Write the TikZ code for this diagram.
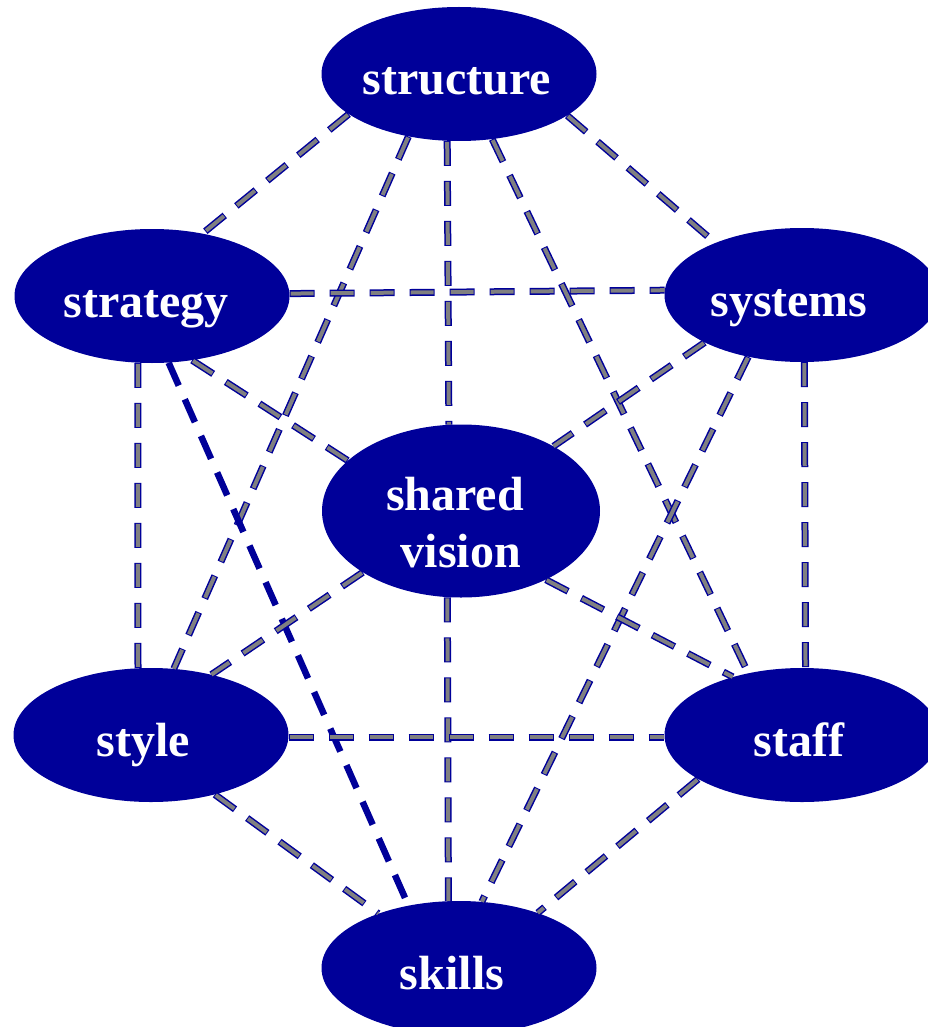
\documentclass[tikz,border=0pt]{standalone}
\usepackage{fontspec}
\setmainfont{Liberation Serif}
\usepackage{tikz}
\usetikzlibrary{shapes}
\definecolor{navy}{RGB}{0,0,153}
\definecolor{linkgray}{RGB}{128,128,128}
\tikzset{
  link/.style={draw=linkgray,line width=4pt,dash pattern=on 23pt off 17pt,dash phase=39pt,
    preaction={draw=navy,line width=7pt,dash pattern=on 25pt off 15pt,dash phase=0pt}},
  boldlink/.style={draw=navy,line width=6.5pt,dash pattern=on 25pt off 15pt},
}
\newcommand{\sevens}{\node[ellipse,fill=navy,inner sep=0pt,minimum width=275pt,minimum height=134pt,text=white,font=\bfseries\fontsize{48}{57}\selectfont,text height=46pt,text depth=4pt]}
\newcommand{\lft}[1]{\kern#1pt}

\begin{document}
\begin{tikzpicture}[x=1pt,y=-1pt]
          \useasboundingbox (0,0) rectangle (928,1027);
          \sevens (structure) at (459,74) {structure\lft{4}}; % 
          \sevens (strategy) at (152,296) {strategy\lft{12}}; % 
          \sevens (systems) at (802,295) {systems\lft{26}}; % 
          \sevens[minimum width=278pt,minimum height=173pt,align=center,text height=114pt,text depth=2pt] (shared) at (461,511) {shared\lft{12}\\vision}; % 
          \sevens (style) at (151,735) {style\lft{16}}; % 
          \sevens (staff) at (802,735) {staff\lft{6}}; % 
          \sevens (skills) at (459,968) {skills\lft{14}}; % 
          \draw[link] (structure.200) -- (strategy.51);
          \draw[link] (structure.339) -- (systems.149);
          \draw[link] (structure.260.5) -- (shared.98.6);
          \draw[link] (structure.231) -- (style.71);
          \draw[link] (structure.297) -- (staff.131);
          \draw[link] (strategy.1.7) -- (systems.178.5);
          \draw[link] (strategy.258) -- (style.101);
          \draw[link] (strategy.302) -- (shared.156.5);
          \draw[boldlink] (strategy.284.6) -- (skills.129);
          \draw[link] (systems.272.6) -- (staff.87.5);
          \draw[link] (systems.206) -- (shared.35.6);
          \draw[link] (systems.229) -- (skills.71.6);
          \draw[link] (shared.212.4) -- (style.45.4);
          \draw[link] (shared.321) -- (staff.140.6);
          \draw[link] (shared.261.5) -- (skills.99.2);
          \draw[link] (style.359) -- (staff.181.3);
          \draw[link] (style.317) -- (skills.146);
          \draw[link] (staff.203.8) -- (skills.35.6);
        \end{tikzpicture}
\end{document}
